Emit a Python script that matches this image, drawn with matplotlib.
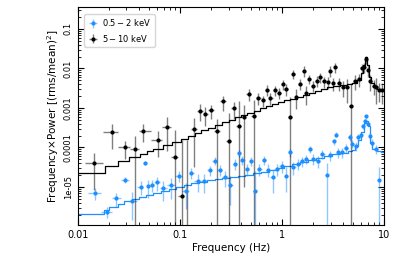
"""Power density spectra (f x P) in two energy bands with step-model overlay."""
import numpy as np
import matplotlib
matplotlib.use("Agg")
import matplotlib.pyplot as plt

# ---- 5-10 keV data (Hz, f*P, 1-sigma) ----
f_hard = [0.0145, 0.0216, 0.029, 0.0364, 0.0439, 0.0606, 0.0747, 0.0894, 0.104, 0.118,
          0.138, 0.157, 0.178, 0.204, 0.231, 0.265, 0.301, 0.336, 0.379, 0.421,
          0.474, 0.531, 0.59, 0.66, 0.717, 0.773, 0.865, 0.946, 1.02, 1.10,
          1.21, 1.30, 1.38, 1.51, 1.63, 1.72, 1.85, 2.04, 2.20, 2.38,
          2.60, 2.81, 2.97, 3.18, 3.35, 3.61, 3.98, 4.36, 4.80, 5.25,
          5.66, 6.10, 6.38, 6.67, 6.95, 7.30, 7.98, 8.45, 8.94, 9.62]
p_hard = [4.06e-5, 2.4e-4, 1.0e-4, 9.3e-5, 2.65e-4, 1.57e-4, 3.3e-4, 5.75e-5, 5.8e-6, 1e-7,
          2.93e-4, 8.5e-4, 7.1e-4, 8.7e-4, 2.65e-4, 1.46e-3, 1.49e-4, 9.9e-4, 3.6e-4, 5.9e-4,
          2.28e-3, 6.1e-4, 1.78e-3, 1.55e-3, 2.88e-3, 1.78e-3, 2.77e-3, 2.46e-3, 4.0e-3, 3.0e-3,
          5.9e-4, 7.3e-3, 1.95e-3, 4.1e-3, 8.7e-3, 2.38e-3, 5.5e-3, 3.7e-3, 4.9e-3, 6.0e-3,
          4.7e-3, 4.6e-3, 8.7e-3, 4.25e-3, 1.07e-2, 4.25e-3, 3.37e-3, 3.37e-3, 1.12e-3, 4.8e-3,
          5.3e-3, 1.02e-2, 1.07e-2, 1.7e-2, 9.2e-3, 4.7e-3, 3.57e-3, 3.43e-3, 2.88e-3, 2.77e-3]
e_hard = [3.2e-5, 1.5e-4, 5e-5, 1.0e-4, 1.3e-4, 1.0e-4, 2.5e-4, 2.2e-4, 1.5e-4, 1.57e-4,
          2.6e-4, 3.8e-4, 3.5e-4, 3.5e-4, 2.7e-4, 6e-4, 6e-4, 4.5e-4, 1.1e-3, 5.8e-4,
          8e-4, 1e-3, 6e-4, 5e-4, 9e-4, 6e-4, 8e-4, 8e-4, 1.2e-3, 1e-3,
          1.35e-3, 2e-3, 1e-3, 1.3e-3, 2.5e-3, 1.2e-3, 1.5e-3, 1.2e-3, 1.5e-3, 1.8e-3,
          1.5e-3, 1.5e-3, 2.5e-3, 1.5e-3, 3e-3, 1.5e-3, 1.5e-3, 2e-3, 3.2e-3, 2e-3,
          2e-3, 3e-3, 3e-3, 4e-3, 3e-3, 2e-3, 1.5e-3, 2.2e-3, 1.5e-3, 1.5e-3]

# ---- 0.5-2 keV data ----
f_soft = [0.0146, 0.0194, 0.0239, 0.029, 0.0343, 0.0414, 0.0459, 0.0488, 0.0537, 0.0593,
          0.0687, 0.0817, 0.0978, 0.114, 0.130, 0.149, 0.173, 0.196, 0.219, 0.246,
          0.275, 0.313, 0.349, 0.379, 0.409, 0.457, 0.501, 0.548, 0.603, 0.664,
          0.727, 0.813, 0.889, 0.995, 1.10, 1.20, 1.30, 1.43, 1.56, 1.72,
          1.88, 2.04, 2.27, 2.50, 2.74, 2.95, 3.23, 3.38, 3.58, 3.92,
          4.23, 4.63, 4.84, 5.30, 5.61, 5.97, 6.28, 6.53, 6.72, 6.93,
          7.25, 7.69, 8.41, 8.94]
p_soft = [7.1e-6, 2.4e-6, 5.2e-6, 1.54e-5, 4.5e-6, 1.02e-5, 4.06e-5, 1.04e-5, 1.15e-5, 1.31e-5,
          9.5e-6, 1.1e-5, 1.94e-5, 7.8e-6, 2.27e-5, 1.45e-5, 1.39e-5, 2.67e-5, 4.6e-5, 2.75e-5,
          1.8e-5, 1.15e-5, 3.83e-5, 7.3e-5, 4.9e-5, 2.86e-5, 4.6e-5, 8.1e-6, 2.86e-5, 4.97e-5,
          2.75e-5, 1.8e-5, 2.86e-5, 3.47e-5, 1.94e-5, 7.5e-5, 3.22e-5, 3.9e-5, 4.46e-5, 5.2e-5,
          9.2e-5, 5.2e-5, 4.46e-5, 6.9e-5, 2.06e-5, 6.3e-5, 1.43e-4, 2.1e-4, 7.5e-5, 7.5e-5,
          9.7e-5, 1.84e-4, 1.25e-4, 1.11e-4, 1.84e-4, 2.1e-4, 3.4e-4, 4.56e-4, 6.1e-4, 4.0e-4,
          1.99e-4, 1.3e-4, 9.2e-5, 1.54e-5]
e_soft = [2.5e-6, 8e-7, 2e-6, 3e-6, 3e-6, 4e-6, 5e-6, 5e-6, 4e-6, 5e-6,
          5e-6, 6e-6, 6e-6, 5e-6, 7e-6, 7e-6, 7e-6, 8e-6, 1e-5, 9e-6,
          8e-6, 8e-6, 1.2e-5, 1.5e-5, 1.3e-5, 1e-5, 1.2e-5, 1.7e-5, 1e-5, 1.3e-5,
          1e-5, 1.1e-5, 1e-5, 1.2e-5, 1.2e-5, 1.8e-5, 1.2e-5, 1.2e-5, 1.3e-5, 1.4e-5,
          2e-5, 1.5e-5, 1.5e-5, 1.8e-5, 2e-5, 1.8e-5, 2.5e-5, 3e-5, 2e-5, 2e-5,
          2.5e-5, 4e-5, 3e-5, 3e-5, 4e-5, 4e-5, 5e-5, 6e-5, 7e-5, 6e-5,
          4e-5, 3e-5, 2.5e-5, 1.6e-5]

# ---- best-fit models (bin start frequency, f*P) ----
mod_hard_f = [0.010, 0.0183, 0.025, 0.032, 0.0407, 0.0473, 0.0549, 0.0687, 0.083, 0.102,
              0.12, 0.14, 0.16, 0.19, 0.22, 0.26, 0.30, 0.35, 0.40, 0.46,
              0.53, 0.61, 0.70, 0.80, 0.92, 1.05, 1.2, 1.4, 1.6, 1.85,
              2.1, 2.4, 2.8, 3.2, 3.7, 4.3, 4.9, 5.4, 5.9, 6.3,
              6.6, 6.9, 7.2, 7.5, 8.0, 8.6, 9.3, 10.0]
mod_hard_p = [2.27e-5, 3.33e-5, 4.46e-5, 5.75e-5, 6.85e-5, 7.97e-5, 9.3e-5, 1.18e-4, 1.38e-4, 1.64e-4,
              1.9e-4, 2.3e-4, 2.7e-4, 3.2e-4, 3.8e-4, 4.4e-4, 5.0e-4, 5.8e-4, 6.6e-4, 7.6e-4,
              8.6e-4, 9.8e-4, 1.1e-3, 1.25e-3, 1.4e-3, 1.55e-3, 1.7e-3, 1.9e-3, 2.1e-3, 2.4e-3,
              2.7e-3, 3.0e-3, 3.3e-3, 3.6e-3, 3.8e-3, 4.0e-3, 4.2e-3, 5.1e-3, 7.5e-3, 1.2e-2,
              1.9e-2, 1.2e-2, 6e-3, 4.2e-3, 3.5e-3, 3.0e-3, 2.8e-3, 2.8e-3]
mod_soft_f = [0.010, 0.0179, 0.020, 0.025, 0.0284, 0.0338, 0.040, 0.047, 0.055, 0.065,
              0.078, 0.092, 0.11, 0.13, 0.155, 0.185, 0.22, 0.26, 0.31, 0.37,
              0.44, 0.52, 0.62, 0.74, 0.88, 1.05, 1.25, 1.5, 1.8, 2.15,
              2.6, 3.1, 3.7, 4.4, 4.9, 5.2, 5.6, 6.0, 6.4, 6.75,
              7.0, 7.3, 7.7, 8.5, 9.3, 10.0]
mod_soft_p = [2.13e-6, 2.69e-6, 3.14e-6, 3.81e-6, 4.35e-6, 5.0e-6, 5.6e-6, 6.3e-6, 7.0e-6, 7.8e-6,
              8.8e-6, 1.0e-5, 1.15e-5, 1.28e-5, 1.38e-5, 1.48e-5, 1.56e-5, 1.65e-5, 1.75e-5, 1.88e-5,
              2.0e-5, 2.2e-5, 2.4e-5, 2.65e-5, 3.0e-5, 3.4e-5, 3.8e-5, 4.3e-5, 4.9e-5, 5.5e-5,
              6.2e-5, 6.8e-5, 7.4e-5, 8.0e-5, 8.7e-5, 1.07e-4, 1.57e-4, 2.5e-4, 4.1e-4, 4.8e-4,
              3.4e-4, 1.3e-4, 9.2e-5, 8e-5, 7.8e-5, 7.8e-5]

labels = ["$0.5-2$ keV", "$5-10$ keV"]
xticks = [0.01, 0.1, 1, 10]
xtick_labels = ["0.01", "0.1", "1", "10"]
yticks = [1e-5, 1e-4, 1e-3, 1e-2, 1e-1]
ytick_labels = ["1e-05", "0.0001", "0.001", "0.01", "0.1"]

BLUE = "#1e8fff"


def xerr_of(f):
    f = np.asarray(f)
    mid = np.sqrt(f[1:] * f[:-1])
    lo = np.concatenate([[f[0] ** 2 / mid[0]], mid])
    hi = np.concatenate([mid, [f[-1] ** 2 / mid[-1]]])
    return np.vstack([f - lo, hi - f])


fig = plt.figure(figsize=(3.97, 2.64), dpi=100)
ax = fig.add_axes([0.196, 0.148, 0.771, 0.824])
ax.set_xscale("log")
ax.set_yscale("log")

ax.step(mod_soft_f, mod_soft_p, where="post", color=BLUE, lw=0.9, zorder=2)
ax.step(mod_hard_f, mod_hard_p, where="post", color="black", lw=0.9, zorder=2)

ax.errorbar(f_soft, p_soft, yerr=e_soft, xerr=xerr_of(f_soft), fmt="o", ms=2,
            color=BLUE, ecolor=(0.12, 0.56, 1.0, 0.5), elinewidth=1.0, capsize=0,
            label=labels[0], zorder=3)
ax.errorbar(f_hard, p_hard, yerr=e_hard, xerr=xerr_of(f_hard), fmt="o", ms=2,
            color="black", ecolor=(0, 0, 0, 0.5), elinewidth=1.0, capsize=0,
            label=labels[1], zorder=3)

ax.set_xlim(0.01, 10)
ax.set_ylim(1.1e-6, 0.35)
ax.set_xticks(xticks)
ax.set_xticklabels(xtick_labels)
ax.set_yticks(yticks)
ax.set_yticklabels(ytick_labels)
ax.yaxis.set_minor_locator(matplotlib.ticker.LogLocator(base=10, subs=np.arange(2, 10), numticks=20))
ax.xaxis.set_minor_locator(matplotlib.ticker.LogLocator(base=10, subs=np.arange(2, 10), numticks=20))
ax.tick_params(which="both", direction="in", top=True, right=True)
ax.tick_params(which="major", length=4, width=0.8)
ax.tick_params(which="minor", length=2, width=0.6)
ax.tick_params(axis="x", labelsize=7)
ax.tick_params(axis="y", labelsize=6, labelrotation=90)
for lab in ax.get_yticklabels():
    lab.set_va("center")

ax.set_xlabel("Frequency (Hz)", fontsize=7.5, labelpad=2)
ax.set_ylabel("Frequency$\\times$Power [(rms/mean)$^2$]", fontsize=7.5, labelpad=2)
ax.legend(loc="upper left", fontsize=6, handlelength=1.2, handletextpad=0.5,
          borderaxespad=0.8, frameon=True)

fig.savefig("out.png", dpi=100)
